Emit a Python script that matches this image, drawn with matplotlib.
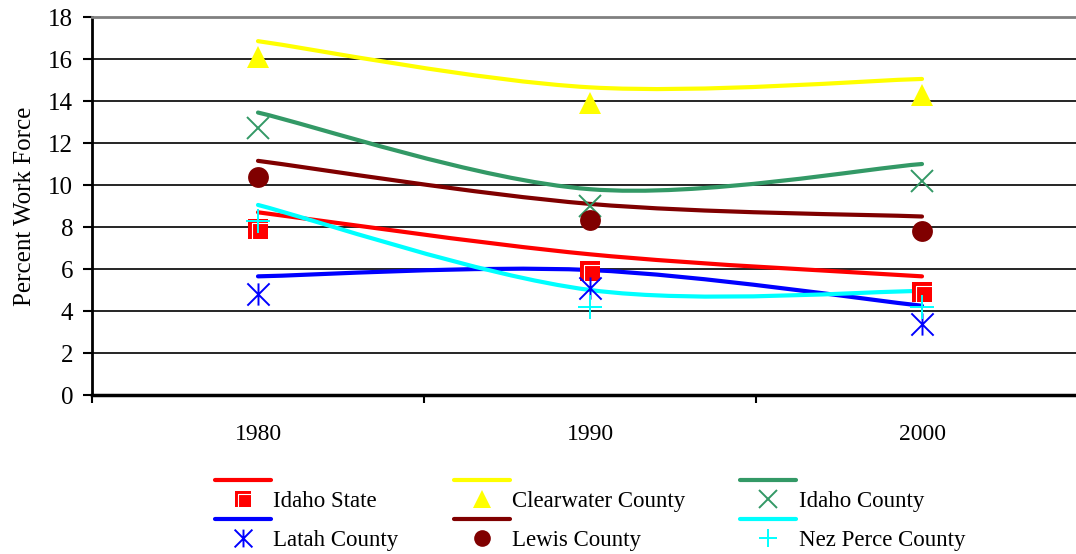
import numpy as np
import matplotlib
matplotlib.use('Agg')
import matplotlib.pyplot as plt
from matplotlib.path import Path
from matplotlib.patches import PathPatch
from matplotlib.lines import Line2D

plt.rcParams['font.family'] = ['Liberation Serif', 'DejaVu Serif']

years = ['1980', '1990', '2000']
names = ['Idaho State', 'Clearwater County', 'Idaho County',
         'Latah County', 'Lewis County', 'Nez Perce County']

# point values (markers)
idaho_state = [7.9, 5.9, 4.9]
clearwater = [16.1, 13.9, 14.3]
idaho_county = [12.7, 9.0, 10.2]
latah = [4.8, 5.1, 3.4]
lewis = [10.4, 8.35, 7.8]
nez_perce = [8.3, 4.2, 4.2]

# smoothed line series
idaho_state_line = [8.7, 6.7, 5.65]
clearwater_line = [16.85, 14.65, 15.05]
idaho_county_line = [13.45, 9.8, 11.0]
latah_line = [5.65, 5.95, 4.25]
lewis_line = [11.15, 9.1, 8.5]
nez_perce_line = [9.05, 5.0, 4.95]

colors = ['#FF0000', '#FFFF00', '#339966', '#0000FF', '#800000', '#00FFFF']
points = [idaho_state, clearwater, idaho_county, latah, lewis, nez_perce]
lines = [idaho_state_line, clearwater_line, idaho_county_line,
         latah_line, lewis_line, nez_perce_line]

# asterisk without horizontal bar
star = Path([(0, -1), (0, 1), (-1, -1), (1, 1), (-1, 1), (1, -1)],
            [Path.MOVETO, Path.LINETO, Path.MOVETO, Path.LINETO, Path.MOVETO, Path.LINETO])
# white highlight inside the square
hilite = Path([(-0.6, -1), (-0.6, 0.6), (1, 0.6)], [Path.MOVETO, Path.LINETO, Path.LINETO])

markers = ['s', '^', 'x', star, 'o', '+']
sizes = [15, 16.5, 16, 16, 15, 17]
filled = [True, True, False, False, True, False]


def mstyle(i, scale=1.0):
    d = dict(marker=markers[i], ms=sizes[i] * scale, mec=colors[i])
    if filled[i]:
        d.update(mfc=colors[i], mew=0)
    else:
        d.update(mfc='none', mew=1.4)
    return d


def smooth_path(xs, ys):
    # catmull-rom style bezier through the points (like excel smoothed line)
    P = list(zip(xs, ys))
    verts = [P[0]]
    codes = [Path.MOVETO]
    n = len(P)
    for i in range(n - 1):
        p0 = P[i - 1] if i > 0 else P[i]
        p1 = P[i]
        p2 = P[i + 1]
        p3 = P[i + 2] if i + 2 < n else P[i + 1]
        c1 = (p1[0] + (p2[0] - p0[0]) / 6.0, p1[1] + (p2[1] - p0[1]) / 6.0)
        c2 = (p2[0] - (p3[0] - p1[0]) / 6.0, p2[1] - (p3[1] - p1[1]) / 6.0)
        verts += [c1, c2, p2]
        codes += [Path.CURVE4] * 3
    return Path(verts, codes)


fig = plt.figure(figsize=(10.76, 5.54), dpi=100)
ax = fig.add_axes([92 / 1076, 1 - 395 / 554, 996 / 1076, 378 / 554])

x = np.arange(len(years)) + 0.5
for i in range(6):
    pp = PathPatch(smooth_path(x, lines[i]), fill=False, edgecolor=colors[i],
                   lw=3, capstyle='round', zorder=3)
    ax.add_patch(pp)
for i in range(6):
    ax.plot(x, points[i], ls='none', zorder=4, **mstyle(i))
    if i == 0:
        ax.plot(x, points[i], ls='none', marker=hilite, ms=15, mfc='none',
                mec='white', mew=0.8, zorder=4)

ax.set_xlim(0, 3)
ax.set_ylim(0, 18)
ax.set_yticks(np.arange(0, 19, 2))
ax.set_xticks([0, 1, 2, 3])
ax.set_xticklabels([])
ax.set_xticks(x, minor=True)
ax.set_xticklabels(years, minor=True)
ax.tick_params(axis='x', which='minor', length=0, pad=21, labelsize=17)
ax.tick_params(axis='x', which='major', direction='out', length=6, width=1.5)
ax.tick_params(axis='y', direction='out', length=6.5, width=1.5, labelsize=18, pad=7)
ax.yaxis.grid(True, color='black', lw=1.2)
ax.set_axisbelow(True)
ax.spines['right'].set_visible(False)
ax.spines['top'].set_color('#808080')
ax.spines['top'].set_linewidth(2)
ax.spines['left'].set_linewidth(2)
ax.spines['bottom'].set_linewidth(2.5)
ax.set_ylabel('Percent Work Force', fontsize=18, labelpad=9)

handles = []
labels = []
for i in range(6):
    handles.append(Line2D([], [], color=colors[i], lw=3, solid_capstyle='round'))
    labels.append(' ')
    h = Line2D([], [], ls='none', **mstyle(i, 0.8))
    if i == 0:
        h = (h, Line2D([], [], ls='none', marker=hilite, ms=12, mfc='none',
                       mec='white', mew=0.8))
    handles.append(h)
    labels.append(names[i])
order = [0, 1, 6, 7, 2, 3, 8, 9, 4, 5, 10, 11]
fig.legend([handles[k] for k in order], [labels[k] for k in order],
           loc='upper center', bbox_to_anchor=(590 / 1076, 1 - 472 / 554),
           ncol=3, frameon=False, fontsize=16.5, handlelength=2.45,
           handletextpad=0.1, columnspacing=2.4, labelspacing=-0.07,
           borderpad=0, borderaxespad=0)

fig.savefig('out.png', dpi=100)
